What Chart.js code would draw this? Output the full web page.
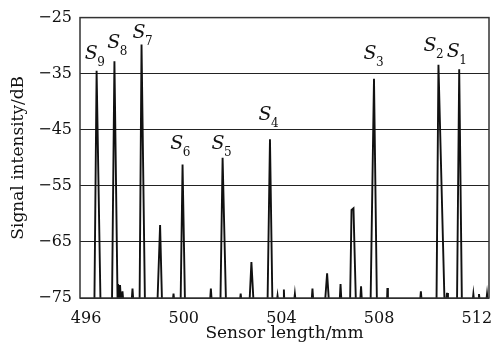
<!DOCTYPE html>
<html>
<head>
<meta charset="utf-8">
<script src="https://cdn.jsdelivr.net/npm/chart.js@4/dist/chart.umd.min.js"></script>
<style>
  body { margin: 0; background: #fff; }
  canvas { display: block; }
</style>
</head>
<body>
<canvas id="myChart" width="499" height="342"></canvas>
<script>
// Sensor length (mm) and signal intensity (dB)
const sensorLength = [
  495.75, 496.34, 496.43, 496.59, 497.06, 497.16, 497.29, 497.31, 497.35, 497.39,
  497.43, 497.49, 497.53, 497.86, 497.90, 497.94, 498.19, 498.27, 498.41, 498.92,
  499.03, 499.11, 499.54, 499.58, 499.62, 499.87, 499.95, 500.05, 501.07, 501.11,
  501.15, 501.50, 501.59, 501.73, 502.29, 502.33, 502.37, 502.69, 502.77, 502.86,
  503.43, 503.53, 503.63, 503.80, 503.84, 503.88, 504.08, 504.10, 504.12, 504.51,
  504.55, 504.59, 505.23, 505.27, 505.31, 505.78, 505.87, 505.95, 506.38, 506.42,
  506.46, 506.81, 506.87, 506.95, 507.05, 507.22, 507.26, 507.30, 507.65, 507.79,
  507.91, 508.32, 508.34, 508.36, 509.67, 509.71, 509.75, 510.35, 510.43, 510.68,
  510.74, 510.78, 510.82, 511.19, 511.28, 511.39, 511.82, 511.86, 511.90, 512.05,
  512.09, 512.13, 512.38, 512.42, 512.46, 512.5
];
const signalDb = [
  -76, -76, -34.5, -76, -76, -32.8, -76, -72.5, -76, -72.7,
  -76, -73.8, -76, -76, -73.3, -76, -76, -29.8, -76, -76,
  -62.0, -76, -76, -74.2, -76, -76, -51.2, -76, -76, -73.3,
  -76, -76, -50.0, -76, -76, -74.2, -76, -76, -68.6, -76,
  -76, -46.7, -76, -76, -74.6, -76, -76, -73.5, -76, -76,
  -74.3, -76, -76, -73.3, -76, -76, -70.6, -76, -76, -72.5,
  -76, -76, -59.3, -59.0, -76, -76, -72.9, -76, -76, -35.9,
  -76, -76, -73.2, -76, -76, -73.8, -76, -76, -33.4, -76,
  -76, -74.1, -76, -76, -34.2, -76, -76, -74.3, -76, -76,
  -74.3, -76, -76, -74.3, -76, -76
];

// Peak names (S + subscript) and where they sit, in data units
const peakSubs = ["9", "8", "7", "6", "5", "4", "3", "2", "1"];
const peakLabelX = [496.21, 497.13, 498.17, 499.71, 501.40, 503.33, 507.63, 510.08, 511.04];
const peakLabelY = [-31.5, -29.5, -27.7, -47.6, -47.6, -42.3, -31.5, -30.0, -31.1];

const xTicks = [496, 500, 504, 508, 512];
const yTicks = [-75, -65, -55, -45, -35, -25];

const serif = "'DejaVu Serif', 'Liberation Serif', serif";

const points = sensorLength.map((x, i) => ({ x: x, y: signalDb[i] }));

// box around the plot area + S labels
const extras = {
  id: "extras",
  afterDatasetsDraw(chart) {
    const { ctx, chartArea: a, scales } = chart;
    ctx.save();
    ctx.strokeStyle = "#333";
    ctx.lineWidth = 1.5;
    ctx.strokeRect(a.left, a.top, a.right - a.left, a.bottom - a.top);

    ctx.fillStyle = "#111";
    ctx.textBaseline = "middle";
    peakSubs.forEach((sub, i) => {
      const px = scales.x.getPixelForValue(peakLabelX[i]);
      const py = scales.y.getPixelForValue(peakLabelY[i]);
      ctx.font = "italic 19px " + serif;
      ctx.textAlign = "center";
      ctx.fillText("S", px, py);
      ctx.font = "12px " + serif;
      ctx.textAlign = "left";
      ctx.fillText(sub, px + 6, py + 9);
    });
    ctx.restore();
  },
};

const ctx = document.getElementById("myChart").getContext("2d");
new Chart(ctx, {
  type: "line",
  data: {
    datasets: [
      {
        data: points,
        borderColor: "#111",
        borderWidth: 1.9,
        pointRadius: 0,
        tension: 0,
        fill: false,
      },
    ],
  },
  options: {
    responsive: false,
    animation: false,
    devicePixelRatio: 1,
    layout: { padding: { top: 15, right: 10, left: 0, bottom: 0 } },
    plugins: { legend: { display: false }, tooltip: { enabled: false } },
    scales: {
      x: {
        type: "linear",
        min: 495.75,
        max: 512.5,
        afterBuildTicks: (s) => {
          s.ticks = xTicks.map((v) => ({ value: v }));
        },
        afterFit: (s) => {
          s.height = 44;
        },
        grid: { display: false },
        border: { display: false },
        ticks: {
          color: "#111",
          padding: 3,
          maxRotation: 0,
          font: { family: serif, size: 16 },
          callback: (v) => String(v),
        },
        title: {
          display: true,
          text: "Sensor length/mm",
          color: "#111",
          padding: 0,
          font: { family: serif, size: 17, lineHeight: 1 },
        },
      },
      y: {
        min: -75,
        max: -25,
        afterBuildTicks: (s) => {
          s.ticks = yTicks.map((v) => ({ value: v }));
        },
        afterFit: (s) => {
          s.width = 80;
        },
        grid: { color: "#222", lineWidth: 1, drawTicks: false },
        border: { display: false },
        ticks: {
          color: "#111",
          padding: 8,
          font: { family: serif, size: 16 },
          callback: (v) => (v < 0 ? "\u2212" + Math.abs(v) : String(v)),
        },
        title: {
          display: true,
          text: "Signal intensity/dB",
          color: "#111",
          padding: { top: 10, bottom: 0 },
          font: { family: serif, size: 17, lineHeight: 1 },
        },
      },
    },
  },
  plugins: [extras],
});
</script>
</body>
</html>
